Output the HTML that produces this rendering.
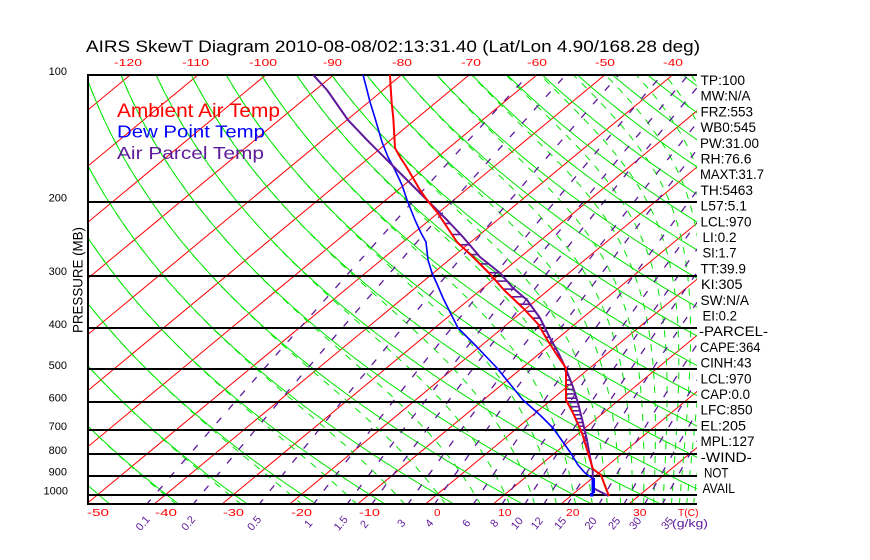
<!DOCTYPE html>
<html><head><meta charset="utf-8"><style>
html,body{margin:0;padding:0;background:#fff;}
svg{display:block;font-family:"Liberation Sans",sans-serif;}
</style></head><body>
<svg id="s" width="870" height="560" xmlns="http://www.w3.org/2000/svg">
<defs><clipPath id="c"><rect x="88" y="75" width="609" height="428"/></clipPath></defs>
<rect x="0" y="0" width="870" height="560" fill="#fff"/>
<g id="grid" clip-path="url(#c)"></g>
<g stroke="#000" stroke-width="2" shape-rendering="crispEdges">
<line x1="87" y1="202" x2="697" y2="202"/>
<line x1="87" y1="276" x2="697" y2="276"/>
<line x1="87" y1="328" x2="697" y2="328"/>
<line x1="87" y1="369" x2="697" y2="369"/>
<line x1="87" y1="402" x2="697" y2="402"/>
<line x1="87" y1="430" x2="697" y2="430"/>
<line x1="87" y1="454" x2="697" y2="454"/>
<line x1="87" y1="476" x2="697" y2="476"/>
<line x1="87" y1="495" x2="697" y2="495"/>
<line x1="87" y1="75" x2="697" y2="75"/>
<line x1="87" y1="504" x2="697" y2="504"/>
<line x1="88" y1="74" x2="88" y2="505"/>
</g>
<g id="hatch" clip-path="url(#c)"></g>
<g fill="none" stroke-linejoin="round" clip-path="url(#c)">
<polyline id="dp" stroke="#0000ff" stroke-width="1.6" points="363,74.7 367,90 370,102 375,118 382,142 388,157 395,170 402,185 407,200 415,220 421,233 426,242 428,260 432,273 437,284 443,298 450,312 458,328 477,347 497,368 523,400 540,415 553,428 570,452 578,465 585,473 592,478 593,482 593,495"/>
<polyline id="pp" stroke="#5e1a9a" stroke-width="2" points="313,74.7 327,90 348,120 367,140 387,160 407,180 429,202 447,220 463,237 480,257 500,273 513,288 527,300 540,318 550,338 559,354 566,369 573,387 578,403 583,423 587,440 590,457 592.7,470 593,488 608.5,496"/>
<polyline id="tp" stroke="#ff0000" stroke-width="2" points="390,74.7 390.7,88 391.7,103 393.3,118 394.3,135 395,148 400,157 406.5,167 413,178 420,190 427,200 437,212 447,227 457,242 473,257 490,274 504,290 523,308 538,324 548,341 557,355 566,368 566,400 573,413 582,433 588,453 593,469 601,475 605,486 609,496"/>
</g>
<rect x="591.5" y="478" width="3.5" height="15" fill="#0000ff"/>
<rect x="590" y="493" width="3.5" height="3.5" fill="#0000ff"/>

<!-- Title -->
<text x="86" y="52" font-size="17" textLength="614" lengthAdjust="spacingAndGlyphs" fill="#000">AIRS SkewT Diagram 2010-08-08/02:13:31.40 (Lat/Lon 4.90/168.28 deg)</text>

<!-- Legend -->
<text x="117" y="117" font-size="19" textLength="163" lengthAdjust="spacingAndGlyphs" fill="#ff0000">Ambient Air Temp</text>
<text x="117" y="137.5" font-size="17.5" textLength="148" lengthAdjust="spacingAndGlyphs" fill="#0000ff">Dew Point Temp</text>
<text x="117" y="159" font-size="17.5" textLength="147" lengthAdjust="spacingAndGlyphs" fill="#5e1a9a">Air Parcel Temp</text>

<!-- Top temperature labels -->
<g fill="#ff0000" font-size="10.5">
<text x="114" y="66" textLength="28" lengthAdjust="spacingAndGlyphs">-120</text>
<text x="182" y="66" textLength="27" lengthAdjust="spacingAndGlyphs">-110</text>
<text x="249" y="66" textLength="28" lengthAdjust="spacingAndGlyphs">-100</text>
<text x="323" y="66" textLength="19" lengthAdjust="spacingAndGlyphs">-90</text>
<text x="392" y="66" textLength="20" lengthAdjust="spacingAndGlyphs">-80</text>
<text x="461" y="66" textLength="20" lengthAdjust="spacingAndGlyphs">-70</text>
<text x="527" y="66" textLength="20" lengthAdjust="spacingAndGlyphs">-60</text>
<text x="595" y="66" textLength="20" lengthAdjust="spacingAndGlyphs">-50</text>
<text x="663" y="66" textLength="20" lengthAdjust="spacingAndGlyphs">-40</text>
</g>

<!-- Bottom temperature labels -->
<g fill="#ff0000" font-size="10.5">
<text x="87" y="516" textLength="22" lengthAdjust="spacingAndGlyphs">-50</text>
<text x="155" y="516" textLength="22" lengthAdjust="spacingAndGlyphs">-40</text>
<text x="223" y="516" textLength="21" lengthAdjust="spacingAndGlyphs">-30</text>
<text x="291" y="516" textLength="21" lengthAdjust="spacingAndGlyphs">-20</text>
<text x="359" y="516" textLength="21" lengthAdjust="spacingAndGlyphs">-10</text>
<text x="434" y="516" textLength="6.5" lengthAdjust="spacingAndGlyphs">0</text>
<text x="498" y="516" textLength="13.5" lengthAdjust="spacingAndGlyphs">10</text>
<text x="566" y="516" textLength="13.5" lengthAdjust="spacingAndGlyphs">20</text>
<text x="633" y="516" textLength="13.5" lengthAdjust="spacingAndGlyphs">30</text>
<text x="678" y="516" textLength="20.5" lengthAdjust="spacingAndGlyphs">T(C)</text>
</g>

<!-- Mixing ratio labels -->
<g fill="#5e1a9a" font-size="11" text-anchor="middle">
<text transform="translate(142.5,523) rotate(-50)" y="4">0.1</text>
<text transform="translate(188,523) rotate(-50)" y="4">0.2</text>
<text transform="translate(254,523) rotate(-50)" y="4">0.5</text>
<text transform="translate(308,523.5) rotate(-50)" y="4">1</text>
<text transform="translate(340.5,523) rotate(-50)" y="4">1.5</text>
<text transform="translate(364,524) rotate(-50)" y="4">2</text>
<text transform="translate(401,523) rotate(-50)" y="4">3</text>
<text transform="translate(429,523) rotate(-50)" y="4">4</text>
<text transform="translate(466,523) rotate(-50)" y="4">6</text>
<text transform="translate(494,523) rotate(-50)" y="4">8</text>
<text transform="translate(516.7,523) rotate(-50)" y="4">10</text>
<text transform="translate(536.7,523) rotate(-50)" y="4">12</text>
<text transform="translate(560,523) rotate(-50)" y="4">15</text>
<text transform="translate(590.5,523) rotate(-50)" y="4">20</text>
<text transform="translate(614,523) rotate(-50)" y="4">25</text>
<text transform="translate(635,523) rotate(-50)" y="4">30</text>
<text transform="translate(667,523) rotate(-50)" y="4">35</text>
</g>
<text x="672" y="527" font-size="11" fill="#5e1a9a" textLength="36" lengthAdjust="spacingAndGlyphs">(g/kg)</text>

<!-- Pressure labels -->
<g fill="#000" font-size="11" text-anchor="end">
<text x="67" y="75">100</text>
<text x="67" y="201.5">200</text>
<text x="67" y="275">300</text>
<text x="67" y="328">400</text>
<text x="67" y="369">500</text>
<text x="67" y="401.5">600</text>
<text x="67" y="430">700</text>
<text x="67" y="454">800</text>
<text x="67" y="475.5">900</text>
<text x="68" y="494.5">1000</text>
</g>
<text transform="translate(82.5,280) rotate(-90)" font-size="14" text-anchor="middle" textLength="106" lengthAdjust="spacingAndGlyphs" fill="#000">PRESSURE (MB)</text>

<!-- Right side indices -->
<g fill="#000" font-size="14">
<text x="700.5" y="85" textLength="44.5" lengthAdjust="spacingAndGlyphs">TP:100</text>
<text x="700.5" y="100.7" textLength="50" lengthAdjust="spacingAndGlyphs">MW:N/A</text>
<text x="700.5" y="116.4" textLength="52.5" lengthAdjust="spacingAndGlyphs">FRZ:553</text>
<text x="700.5" y="132.1" textLength="55.5" lengthAdjust="spacingAndGlyphs">WB0:545</text>
<text x="700" y="147.8" textLength="59" lengthAdjust="spacingAndGlyphs">PW:31.00</text>
<text x="700.5" y="163.5" textLength="51" lengthAdjust="spacingAndGlyphs">RH:76.6</text>
<text x="700" y="179.2" textLength="64" lengthAdjust="spacingAndGlyphs">MAXT:31.7</text>
<text x="700.5" y="194.9" textLength="52.5" lengthAdjust="spacingAndGlyphs">TH:5463</text>
<text x="700.5" y="210.6" textLength="46.5" lengthAdjust="spacingAndGlyphs">L57:5.1</text>
<text x="700.5" y="226.3" textLength="51" lengthAdjust="spacingAndGlyphs">LCL:970</text>
<text x="702.5" y="242" textLength="34" lengthAdjust="spacingAndGlyphs">LI:0.2</text>
<text x="702.5" y="257.7" textLength="34" lengthAdjust="spacingAndGlyphs">SI:1.7</text>
<text x="700.5" y="273.4" textLength="45.5" lengthAdjust="spacingAndGlyphs">TT:39.9</text>
<text x="701" y="289.1" textLength="41.5" lengthAdjust="spacingAndGlyphs">KI:305</text>
<text x="700.5" y="304.8" textLength="48.5" lengthAdjust="spacingAndGlyphs">SW:N/A</text>
<text x="702.5" y="320.5" textLength="34.5" lengthAdjust="spacingAndGlyphs">EI:0.2</text>
<text x="699" y="336.2" textLength="69" lengthAdjust="spacingAndGlyphs">-PARCEL-</text>
<text x="700" y="351.9" textLength="60.5" lengthAdjust="spacingAndGlyphs">CAPE:364</text>
<text x="700.5" y="367.6" textLength="51" lengthAdjust="spacingAndGlyphs">CINH:43</text>
<text x="700.5" y="383.3" textLength="51" lengthAdjust="spacingAndGlyphs">LCL:970</text>
<text x="700.5" y="399" textLength="49.5" lengthAdjust="spacingAndGlyphs">CAP:0.0</text>
<text x="700.5" y="414.7" textLength="52" lengthAdjust="spacingAndGlyphs">LFC:850</text>
<text x="700.5" y="430.4" textLength="45.5" lengthAdjust="spacingAndGlyphs">EL:205</text>
<text x="700.5" y="446.1" textLength="54" lengthAdjust="spacingAndGlyphs">MPL:127</text>
<text x="700.7" y="461.8" textLength="51" lengthAdjust="spacingAndGlyphs">-WIND-</text>
<text x="704" y="477.5" textLength="24.5" lengthAdjust="spacingAndGlyphs">NOT</text>
<text x="702.5" y="493.2" textLength="32.5" lengthAdjust="spacingAndGlyphs">AVAIL</text>
</g>
</svg>
<script>
(function(){
var NS='http://www.w3.org/2000/svg';
function Y(p){return 201.3+182.05*Math.log(p/200);}
function X(T,p){return 87.3+6.78*(T+50)+1.208*(503.3-Y(p));}
var g=document.getElementById('grid');
function pl(pts,st,w,da,par){
  if(pts.length<2)return;
  var e=document.createElementNS(NS,'polyline');var s=[];
  for(var i=0;i<pts.length;i++)s.push(pts[i][0].toFixed(1)+','+pts[i][1].toFixed(1));
  e.setAttribute('points',s.join(' '));e.setAttribute('fill','none');
  e.setAttribute('stroke',st);e.setAttribute('stroke-width',w);
  if(da)e.setAttribute('stroke-dasharray',da);
  (par||g).appendChild(e);
}
var ps=[];for(var p=1060;p>=96;p-=4)ps.push(p);
var i,a,t;
// isotherms
for(var T=-130;T<=40;T+=10)pl([[X(T,1060),Y(1060)],[X(T,96),Y(96)]],'#ff0000',1);
// dry adiabats
for(var th=-50;th<=190;th+=10){a=[];for(i=0;i<ps.length;i++){t=(th+273.15)*Math.pow(ps[i]/1000,0.2857)-273.15;a.push([X(t,ps[i]),Y(ps[i])]);}pl(a,'#00e600',1);}
// moist adiabats (theta-e)
function es(t){return 6.112*Math.exp(17.67*t/(t+243.5));}
function the(t,p){var e=es(t);var w=0.622*e/(p-e);var K=t+273.15;return K*Math.pow(1000/p,0.2857)*Math.exp(2.5e6*w/(1004*K));}
for(var te=-40;te<=190;te+=10){
  var tk=te+273.15;a=[];
  for(i=0;i<ps.length;i++){
    var pp=ps[i],lo=-170,hi=42;
    if(the(hi,pp)<tk){continue;}
    for(var k=0;k<36;k++){var m=(lo+hi)/2;if(the(m,pp)<tk)lo=m;else hi=m;}
    a.push([X((lo+hi)/2,pp),Y(pp)]);
  }
  pl(a,'#00e600',1,'7 7');
}
// mixing ratio lines
var wl=[0.1,0.2,0.5,1,1.5,2,3,4,6,8,10,12,15,20,25,30,35];
for(var j=0;j<wl.length;j++){var w=wl[j];a=[];
  for(i=0;i<ps.length;i++){var e=w*ps[i]/(622+w);var L=Math.log(e/6.112);t=243.5*L/(17.67-L);a.push([X(t,ps[i]),Y(ps[i])]);}
  pl(a,'#5e1a9a',1.3,'7 11');
}
// hatching between parcel and temperature
function parse(id){var s=document.getElementById(id).getAttribute('points').trim().split(/\s+/);var r=[];for(var q=0;q<s.length;q++){var c=s[q].split(',');r.push([+c[0],+c[1]]);}return r;}
function xAt(P,y){for(var q=0;q<P.length-1;q++){var A=P[q],B=P[q+1];if(y>=A[1]&&y<=B[1]){if(B[1]==A[1])return Math.max(A[0],B[0]);return A[0]+(B[0]-A[0])*(y-A[1])/(B[1]-A[1]);}}return null;}
var TP=parse('tp'),PP=parse('pp'),h=document.getElementById('hatch');
for(var p2=212;p2<=760;p2+=14){var yy=Y(p2);var xt=xAt(TP,yy),xp=xAt(PP,yy);
  if(xt!==null&&xp!==null&&xp>xt+1.5){pl([[xt,yy],[xp,yy]],'#5e1a9a',1.6,null,h);}
}
})();
</script>
</body></html>
